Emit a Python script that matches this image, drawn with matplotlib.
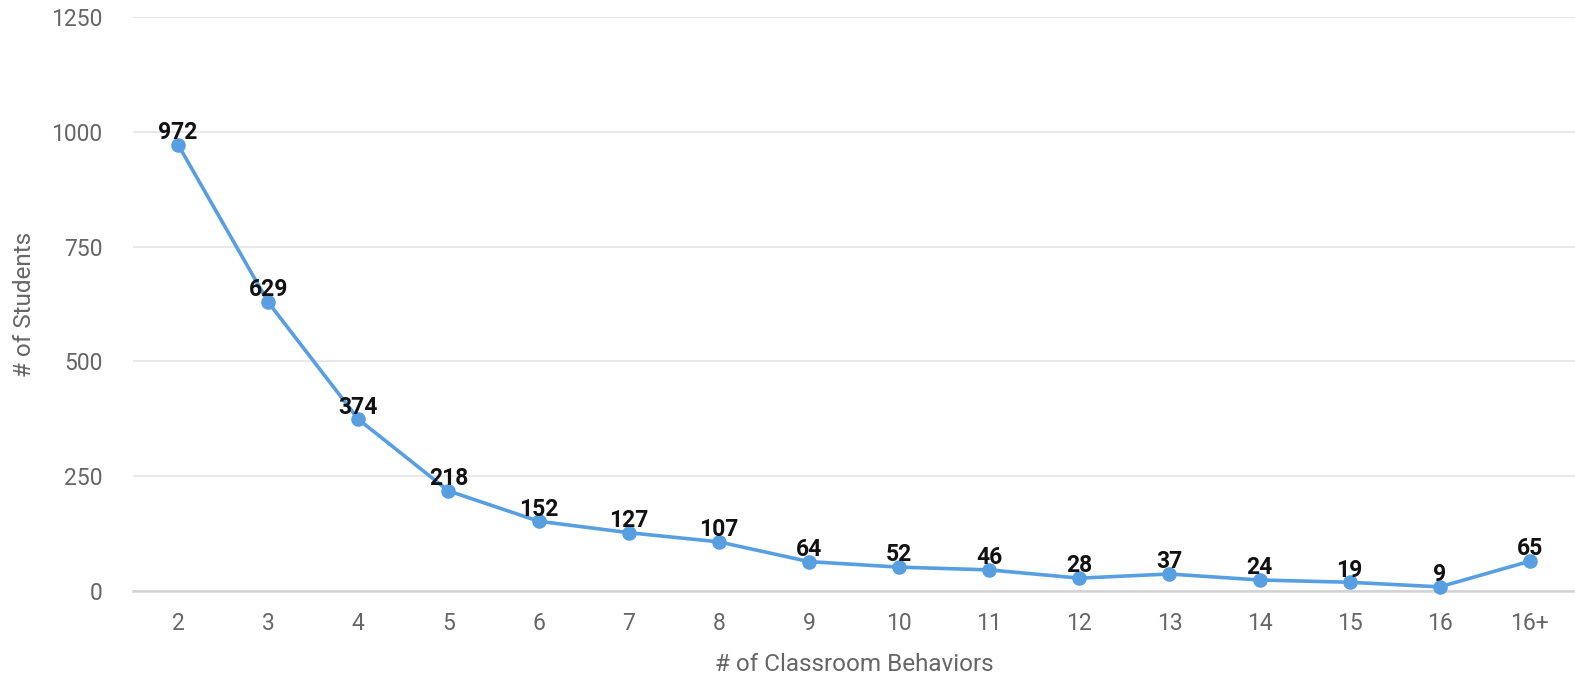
import matplotlib
import matplotlib.pyplot as plt

matplotlib.use('Agg')

# Data
categories = ["2", "3", "4", "5", "6", "7", "8", "9", "10", "11", "12", "13", "14", "15", "16", "16+"]
students = [972, 629, 374, 218, 152, 127, 107, 64, 52, 46, 28, 37, 24, 19, 9, 65]
y_ticks = [0, 250, 500, 750, 1000, 1250]

line_color = '#579fe0'
grid_color = '#e8e8e8'
text_gray = '#666666'

plt.rcParams['font.family'] = ['Roboto', 'DejaVu Sans']

W, H = 1575, 673
fig = plt.figure(figsize=(W / 100, H / 100), dpi=100)
ax = fig.add_axes([133 / W, 1 - 591 / H, (1575 - 133) / W, (591 - 17) / H])

x = list(range(len(categories)))
ax.plot(x, students, color=line_color, linewidth=2.6, marker='o', markersize=9.5,
        zorder=3, clip_on=False)

for xi, v in zip(x, students):
    ax.annotate(str(v), (xi, v), xytext=(0, 0.5), textcoords='offset points',
                ha='center', va='bottom', fontsize=16.5, fontweight='bold',
                color='#111111', zorder=4)

ax.set_xlim(-0.5, len(categories) - 0.5)
ax.set_ylim(0, 1250)
ax.set_yticks(y_ticks)
ax.set_xticks(x)
ax.set_xticklabels(categories)

ax.grid(axis='y', color=grid_color, linewidth=1.5)
ax.set_axisbelow(True)
for s in ['top', 'right', 'left']:
    ax.spines[s].set_visible(False)
ax.spines['bottom'].set_color('#d2d2d2')
ax.spines['bottom'].set_linewidth(1.8)

ax.tick_params(axis='both', length=0, labelsize=16.5, labelcolor=text_gray)
ax.tick_params(axis='y', pad=22)
ax.tick_params(axis='x', pad=15)

ax.set_ylabel("# of Students", fontsize=17.5, color=text_gray, labelpad=11)
ax.set_xlabel("# of Classroom Behaviors", fontsize=17.5, color=text_gray, labelpad=13)

fig.savefig('out.png', dpi=100)
